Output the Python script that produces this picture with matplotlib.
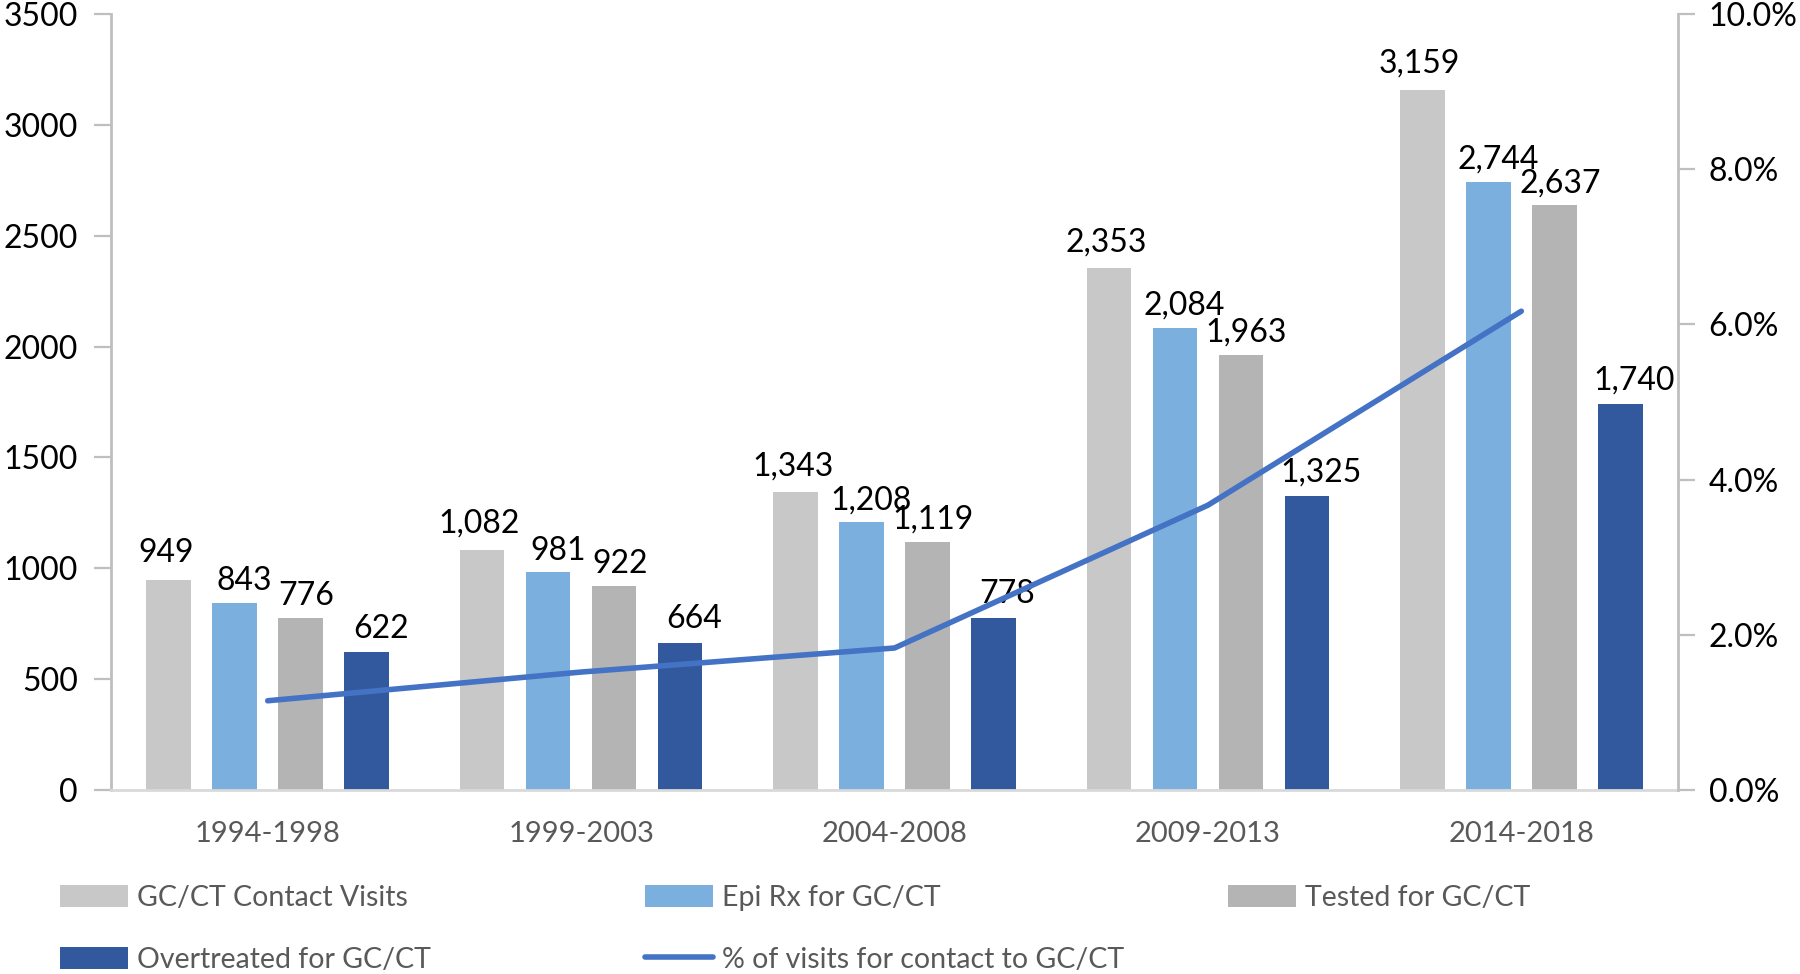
import matplotlib
matplotlib.use("Agg")
import matplotlib.pyplot as plt
import numpy as np
from matplotlib.patches import Patch
from matplotlib.lines import Line2D
from matplotlib.ticker import FuncFormatter, MultipleLocator

plt.rcParams['font.family'] = ['Lato', 'DejaVu Sans']

periods = ["1994-1998", "1999-2003", "2004-2008", "2009-2013", "2014-2018"]
contact_visits = [949, 1082, 1343, 2353, 3159]
epi_rx = [843, 981, 1208, 2084, 2744]
tested = [776, 922, 1119, 1963, 2637]
overtreated = [622, 664, 778, 1325, 1740]
pct_visits = [0.0115, 0.0152, 0.0183, 0.0367, 0.0617]

series_names = ["GC/CT Contact Visits", "Epi Rx for GC/CT", "Tested for GC/CT", "Overtreated for GC/CT"]
line_name = "% of visits for contact to GC/CT"

colors = ["#C8C8C8", "#7BAFDE", "#B4B4B4", "#32599E"]
line_color = "#4472C4"
label_dx = [-2, 7, 4, 10]  # points, label horizontal offsets
label_dy = [8, 5, 5, 6]    # points, label vertical offsets

fig = plt.figure(figsize=(18, 9.74), dpi=100)
ax = fig.add_axes([111/1800, 1-790/974, (1678-111)/1800, (790-14)/974])

x = np.arange(len(periods))
bw = 0.142
pitch = 0.2106
all_series = [contact_visits, epi_rx, tested, overtreated]
for i, (vals, c) in enumerate(zip(all_series, colors)):
    xs = x + (i - 1.5) * pitch
    ax.bar(xs, vals, width=bw, color=c, zorder=2)
    for xi, v in zip(xs, vals):
        ax.annotate(f"{v:,}", (xi, v), xytext=(label_dx[i], label_dy[i]), textcoords="offset points",
                    ha="center", va="bottom", fontsize=23, color="black", zorder=5)

ax.set_xlim(-0.5, len(periods) - 0.5)
ax.set_ylim(0, 3500)
ax.yaxis.set_major_locator(MultipleLocator(500))
ax.set_xticks(x)
ax.set_xticklabels(periods)
ax.tick_params(axis="x", length=0, pad=22, labelsize=21, labelcolor="#595959")
ax.tick_params(axis="y", length=12, width=1.6, color="#BFBFBF", labelsize=23, labelcolor="black", pad=12)

for s in ["top", "right"]:
    ax.spines[s].set_visible(False)
ax.spines["left"].set_color("#BFBFBF")
ax.spines["left"].set_linewidth(2)
ax.spines["bottom"].set_color("#D9D9D9")
ax.spines["bottom"].set_linewidth(2)

ax2 = ax.twinx()
ax2.plot(x, pct_visits, color=line_color, lw=4, solid_capstyle="round", solid_joinstyle="round", zorder=4)
ax2.set_ylim(0, 0.10)
ax2.yaxis.set_major_locator(MultipleLocator(0.02))
ax2.yaxis.set_major_formatter(FuncFormatter(lambda v, p: f"{v*100:.1f}%"))
ax2.tick_params(axis="y", length=12, width=1.6, color="#BFBFBF", labelsize=23, labelcolor="black", pad=10)
for s in ["top", "left", "bottom"]:
    ax2.spines[s].set_visible(False)
ax2.spines["right"].set_color("#BFBFBF")
ax2.spines["right"].set_linewidth(2)

h_contact = Patch(facecolor=colors[0], label=series_names[0])
h_epi = Patch(facecolor=colors[1], label=series_names[1])
h_tested = Patch(facecolor=colors[2], label=series_names[2])
h_over = Patch(facecolor=colors[3], label=series_names[3])
h_line = Line2D([0], [0], color=line_color, lw=4, solid_capstyle="round", label=line_name)

common = dict(loc="upper left", frameon=False, borderpad=0, borderaxespad=0, fontsize=20.5,
              handlelength=2.4, handleheight=0.8, handletextpad=0.3, labelspacing=1.25,
              labelcolor="#595959")
ytop = 1 - 885/974
fig.legend(handles=[h_contact, h_over], bbox_to_anchor=(60/1800, ytop), **common)
fig.legend(handles=[h_epi, h_line], bbox_to_anchor=(645/1800, ytop), **common)
fig.legend(handles=[h_tested], bbox_to_anchor=(1228/1800, ytop), **common)

fig.savefig("out.png", dpi=100)
